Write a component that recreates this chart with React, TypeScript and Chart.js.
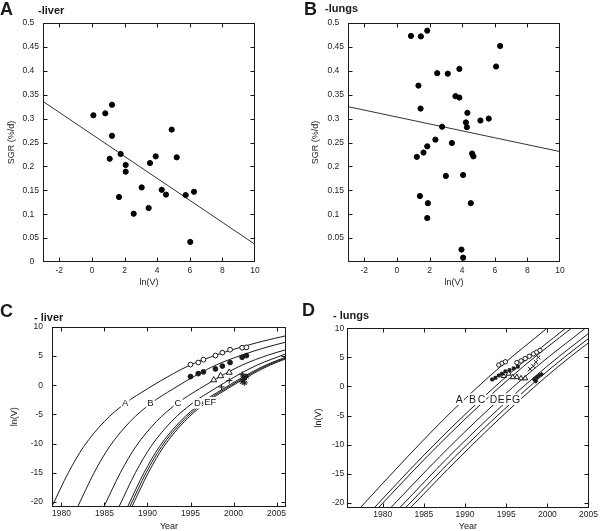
import React, { useEffect, useRef } from "react";
import { Chart, registerables } from "chart.js";
Chart.register(...registerables);

const FONT = "'Liberation Sans', Arial, Helvetica, sans-serif";
const INK = "#1a1a1a";

// ---------- Panel A (liver): SGR vs ln(V) ----------
const A_LNV = [0.09, 0.82, 1.23, 1.23, 1.09, 1.76, 2.07, 2.07, 1.66, 2.56, 3.05, 3.48, 3.56, 3.91, 4.28, 4.54, 4.89, 5.2, 5.75, 6.26, 6.03];
const A_SGR = [0.307, 0.311, 0.329, 0.264, 0.216, 0.226, 0.203, 0.189, 0.136, 0.101, 0.156, 0.113, 0.207, 0.221, 0.151, 0.141, 0.277, 0.219, 0.14, 0.147, 0.042];
const A_FIT_X = [-3, 10];
const A_FIT_Y = [0.336, 0.037];

// ---------- Panel B (lungs): SGR vs ln(V) ----------
const B_LNV = [0.86, 1.47, 1.86, 6.33, 6.08, 2.47, 3.12, 3.83, 1.32, 3.59, 3.83, 1.45, 4.32, 4.23, 4.29, 5.12, 5.63, 2.77, 2.36, 3.37, 1.86, 1.63, 1.22, 4.61, 4.69, 3.0, 4.06, 1.41, 1.9, 4.53, 1.86, 3.96, 4.06];
const B_SGR = [0.473, 0.472, 0.484, 0.452, 0.409, 0.395, 0.394, 0.404, 0.369, 0.347, 0.344, 0.321, 0.312, 0.292, 0.282, 0.296, 0.3, 0.283, 0.256, 0.249, 0.242, 0.229, 0.22, 0.227, 0.221, 0.18, 0.182, 0.138, 0.123, 0.123, 0.092, 0.026, 0.009];
const B_FIT_X = [-3, 10];
const B_FIT_Y = [0.325, 0.231];

const AB_X_TICKS = [-2, 0, 2, 4, 6, 8, 10];
const A_Y_TICKS = [0, 0.05, 0.1, 0.15, 0.2, 0.25, 0.3, 0.35, 0.4, 0.45, 0.5];
const B_Y_TICKS = [0.05, 0.1, 0.15, 0.2, 0.25, 0.3, 0.35, 0.4, 0.45, 0.5];

// ---------- Panel C (liver): ln(V) vs Year ----------
const C_CURVE_A = [[1978.9, -20.8], [1980.8, -15], [1982.6, -10.5], [1985.0, -6.2], [1987.4, -3.1], [1990, -0.6], [1993, 2.0], [1995, 3.5], [1998, 5.2], [2001, 6.6], [2003.5, 7.6], [2006.1, 8.5]];
const C_CURVE_B = [[1981.9, -20.8], [1983.8, -15], [1985.6, -10.5], [1988.0, -6.2], [1990.4, -3.1], [1993.0, -0.6], [1996.0, 2.0], [1998.0, 3.5], [2001.0, 5.2], [2004.0, 6.6], [2006.1, 7.4]];
const C_CURVE_C = [[1984.95, -20.8], [1986.85, -15], [1988.65, -10.5], [1991.05, -6.2], [1993.45, -3.1], [1996.05, -0.6], [1999.05, 2.0], [2001.05, 3.5], [2004.05, 5.2], [2006.1, 6.1]];
const C_CURVE_D = [[1986.7, -20.8], [1988.6, -15], [1990.4, -10.5], [1992.8, -6.2], [1995.2, -3.1], [1997.8, -0.6], [2000.8, 2.0], [2002.8, 3.5], [2006.1, 5.4]];
const C_CURVE_E = [[1987.7, -20.8], [1989.6, -15], [1991.4, -10.5], [1993.8, -6.2], [1996.2, -3.1], [1998.8, -0.6], [2001.8, 2.0], [2003.8, 3.5], [2006.1, 4.85]];
const C_CURVE_F = [[1987.95, -20.8], [1989.85, -15], [1991.65, -10.5], [1994.05, -6.2], [1996.45, -3.1], [1999.05, -0.6], [2002.05, 2.0], [2004.05, 3.5], [2006.1, 4.7]];
const C_CURVE_G = [[1988.2, -20.8], [1990.1, -15], [1991.9, -10.5], [1994.3, -6.2], [1996.7, -3.1], [1999.3, -0.6], [2002.3, 2.0], [2004.3, 3.5], [2006.1, 4.55]];
const C_OPEN_CIRCLES = [[1995.0, 3.55], [1995.9, 3.9], [1996.5, 4.4], [1997.9, 5.1], [1998.7, 5.6], [1999.6, 6.1], [2001.0, 6.45], [2001.5, 6.5]];
const C_FILLED_CIRCLES = [[1995.0, 1.5], [1995.9, 2.0], [1996.5, 2.3], [1997.9, 2.8], [1998.7, 3.3], [1999.6, 3.9], [2001.0, 4.8], [2001.5, 5.1]];
const C_TRIANGLES = [[1997.7, 0.9], [1998.5, 1.6], [1999.5, 2.2]];
const C_PLUSES = [[1998.6, -0.3], [1999.5, 0.8], [2001.0, 1.9], [2001.4, 1.4]];
const C_STARS = [[2001.0, 0.6], [2001.2, 1.0], [2001.5, 1.5], [2001.3, 0.4], [2001.1, 1.6]];
const C_LABELS = ["A", "B", "C", "D", "EF"];
const C_LABEL_X = [1987.4, 1990.35, 1993.55, 1995.8, 1997.3];
const C_LABEL_Y = [-3.1, -3.1, -3.1, -3.1, -2.9];

// ---------- Panel D (lungs): ln(V) vs Year ----------
const D_CURVE_A = [[1977.3, -20.8], [1983.0, -12.1], [1988.6, -4.0], [1994.3, 3.4], [1999.95, 10]];
const D_CURVE_B = [[1979.0, -20.8], [1984.8, -12.1], [1990.6, -4.0], [1996.4, 3.4], [2002.2, 10]];
const D_CURVE_C = [[1979.5, -20.8], [1985.35, -12.1], [1991.2, -4.0], [1997.05, 3.4], [2002.9, 10]];
const D_CURVE_D = [[1981.0, -20.8], [1986.9, -12.1], [1992.8, -4.0], [1998.7, 3.4], [2004.6, 10]];
const D_CURVE_E = [[1982.1, -20.8], [1988.0, -12.1], [1993.95, -4.0], [1999.9, 3.4], [2005.8, 10]];
const D_CURVE_F = [[1982.8, -20.8], [1988.75, -12.1], [1994.7, -4.0], [2000.65, 3.4], [2006.6, 10]];
const D_CURVE_G = [[1983.4, -20.8], [1989.4, -12.1], [1995.35, -4.0], [2001.3, 3.4], [2007.3, 10]];
const D_OPEN_CIRCLES = [[1994.1, 3.7], [1994.5, 4.0], [1994.9, 4.25], [1996.3, 4.1], [1996.8, 4.4], [1997.3, 4.8], [1997.8, 5.2], [1998.3, 5.6], [1998.7, 5.9], [1999.1, 6.2]];
const D_FILLED_SQUARES = [[1993.3, 1.2], [1993.7, 1.5], [1994.1, 1.9], [1994.5, 2.2], [1994.9, 2.6], [1995.4, 2.8], [1995.9, 3.1], [1996.4, 3.4]];
const D_CROSSES = [[1997.9, 3.0], [1998.3, 3.5], [1998.6, 4.2], [1998.9, 5.0]];
const D_TRIANGLES = [[1994.7, 1.8], [1995.3, 2.2], [1995.8, 1.6], [1996.3, 1.6], [1996.8, 1.4], [1997.3, 1.4]];
const D_FILLED_SMALL = [[1998.4, 1.2], [1998.7, 1.6], [1999.0, 1.9], [1999.3, 2.1], [1998.6, 0.9]];
const D_LABELS = ["A", "B", "C", "D", "E", "F", "G"];
const D_LABEL_X = [1989.3, 1990.9, 1992.0, 1993.45, 1994.4, 1995.3, 1996.2];
const D_LABEL_Y = [-2.2, -2.2, -2.2, -2.2, -2.2, -2.2, -2.2];

const CD_X_TICKS = [1980, 1985, 1990, 1995, 2000, 2005];
const CD_Y_TICKS = [-20, -15, -10, -5, 0, 5, 10];

// ---------- plugins ----------
const framePlugin = {
  id: "frame",
  afterDraw(chart: any) {
    const { ctx, chartArea: a, scales } = chart;
    const L = Math.round(a.left) + 0.5, R = Math.round(a.right) - 0.5;
    const T = Math.round(a.top) + 0.5, B = Math.round(a.bottom) - 0.5;
    ctx.save();
    ctx.strokeStyle = INK;
    ctx.lineWidth = 1;
    ctx.strokeRect(L, T, R - L, B - T);
    const len = 4;
    ctx.beginPath();
    scales.x.ticks.forEach((t: any) => {
      const px = Math.round(scales.x.getPixelForValue(t.value)) + 0.5;
      if (px < L || px > R) return;
      ctx.moveTo(px, B); ctx.lineTo(px, B - len);
      ctx.moveTo(px, T); ctx.lineTo(px, T + len);
    });
    scales.y.ticks.forEach((t: any) => {
      const py = Math.round(scales.y.getPixelForValue(t.value)) + 0.5;
      if (py < T || py > B) return;
      ctx.moveTo(L, py); ctx.lineTo(L + len, py);
      ctx.moveTo(R, py); ctx.lineTo(R - len, py);
    });
    ctx.stroke();
    ctx.restore();
  },
};

const textPlugin = {
  id: "texts",
  afterDraw(chart: any, _args: any, opts: any) {
    const { ctx, chartArea: a } = chart;
    ctx.save();
    ctx.fillStyle = INK;
    (opts.headings || []).forEach((h: any) => {
      ctx.font = h.font;
      ctx.textAlign = "left";
      ctx.textBaseline = "alphabetic";
      ctx.fillText(h.text, h.x, h.y);
    });
    ctx.font = `9px ${FONT}`;
    ctx.textAlign = "center";
    ctx.textBaseline = "middle";
    if (opts.xTitle) ctx.fillText(opts.xTitle, (a.left + a.right) / 2, opts.xTitleY);
    if (opts.yTitle) {
      ctx.translate(opts.yTitleX, (a.top + a.bottom) / 2);
      ctx.rotate(-Math.PI / 2);
      ctx.fillText(opts.yTitle, 0, 0);
    }
    ctx.restore();
  },
};

const curveLabelPlugin = {
  id: "curveLabels",
  afterDatasetsDraw(chart: any, _args: any, opts: any) {
    if (!opts.names) return;
    const { ctx, scales } = chart;
    ctx.save();
    ctx.font = `${opts.size}px ${FONT}`;
    ctx.textAlign = "center";
    ctx.textBaseline = "middle";
    opts.names.forEach((n: string, i: number) => {
      const px = scales.x.getPixelForValue(opts.xs[i]);
      const py = scales.y.getPixelForValue(opts.ys[i]);
      const w = ctx.measureText(n).width + 2;
      const h = opts.size + 1;
      ctx.fillStyle = "#fff";
      ctx.fillRect(px - w / 2, py - h / 2, w, h);
      ctx.fillStyle = INK;
      ctx.fillText(n, px, py + 0.5);
    });
    ctx.restore();
  },
};

// ---------- helpers ----------
const pts = (xs: number[], ys: number[]) => xs.map((x, i) => ({ x, y: ys[i] }));
const pairs = (p: number[][]) => p.map(([x, y]) => ({ x, y }));
const fmt = (v: number) => String(v);
const fmtPad = (v: number) => {
  const s = String(v);
  if (s === "0") return "0\u2007";
  const dec = s.split(".")[1] || "";
  return dec.length === 1 ? s + "\u2007" : s;
};

const curve = (p: number[][]) => ({
  data: pairs(p),
  showLine: true,
  borderColor: INK,
  borderWidth: 1,
  pointRadius: 0,
  cubicInterpolationMode: "monotone",
  order: 2,
});

const marks = (p: number[][], style: string, filled: boolean, r = 2.4) => ({
  data: pairs(p),
  showLine: false,
  pointStyle: style,
  pointRadius: r,
  pointBackgroundColor: filled ? INK : "#fff",
  pointBorderColor: INK,
  pointBorderWidth: 1,
  order: 1,
});

function makeConfig(p: any) {
  return {
    type: "scatter",
    data: { datasets: p.datasets },
    options: {
      responsive: false,
      animation: false,
      devicePixelRatio: 1,
      events: [],
      layout: { padding: { left: 0, top: p.top, right: p.right, bottom: 0 } },
      plugins: {
        legend: { display: false },
        tooltip: { enabled: false },
        texts: p.texts,
        curveLabels: p.labels || {},
      },
      scales: {
        x: {
          type: "linear",
          min: p.xMin,
          max: p.xMax,
          grid: { display: false, drawTicks: false },
          border: { display: false },
          ticks: {
            color: "#222",
            font: { family: FONT, size: 8.5 },
            padding: p.xPad,
            maxRotation: 0,
            autoSkip: false,
            callback: fmt,
          },
          afterBuildTicks: (s: any) => { s.ticks = p.xTicks.map((v: number) => ({ value: v })); },
          afterFit: (s: any) => { s.height = p.xH; },
        },
        y: {
          type: "linear",
          min: p.yMin,
          max: p.yMax,
          grid: { display: false, drawTicks: false },
          border: { display: false },
          ticks: {
            color: "#222",
            font: { family: FONT, size: 8.5 },
            padding: p.yPad,
            autoSkip: false,
            callback: p.yFmt || fmt,
          },
          afterBuildTicks: (s: any) => { s.ticks = p.yTicks.map((v: number) => ({ value: v })); },
          afterFit: (s: any) => { s.width = p.yW; },
        },
      },
    },
    plugins: [framePlugin, textPlugin, curveLabelPlugin],
  };
}

const BIG = `bold 18px ${FONT}`;
const SMALL = `bold 11px ${FONT}`;

const configA = makeConfig({
  top: 23, right: 45, yW: 43, xH: 38, xPad: 4, yPad: 4,
  xMin: -3, xMax: 10, yMin: 0, yMax: 0.5, xTicks: AB_X_TICKS, yTicks: A_Y_TICKS, yFmt: fmtPad,
  texts: {
    headings: [{ text: "A", x: 0, y: 15, font: BIG }, { text: "-liver", x: 38, y: 14, font: SMALL }],
    xTitle: "ln(V)", xTitleY: 283, yTitle: "SGR (%/d)", yTitleX: 12,
  },
  datasets: [
    { data: pts(A_FIT_X, A_FIT_Y), showLine: true, borderColor: "#333", borderWidth: 1, pointRadius: 0, order: 2 },
    { data: pts(A_LNV, A_SGR), showLine: false, pointRadius: 2.6, pointBackgroundColor: "#000", pointBorderColor: "#000", order: 1 },
  ],
});

const configB = makeConfig({
  top: 23, right: 40, yW: 48, xH: 38, xPad: 4, yPad: 4,
  xMin: -3, xMax: 10, yMin: 0, yMax: 0.5, xTicks: AB_X_TICKS, yTicks: B_Y_TICKS, yFmt: fmtPad,
  texts: {
    headings: [{ text: "B", x: 4, y: 15, font: BIG }, { text: "-lungs", x: 25, y: 11.5, font: SMALL }],
    xTitle: "ln(V)", xTitleY: 283, yTitle: "SGR (%/d)", yTitleX: 16,
  },
  datasets: [
    { data: pts(B_FIT_X, B_FIT_Y), showLine: true, borderColor: "#333", borderWidth: 1, pointRadius: 0, order: 2 },
    { data: pts(B_LNV, B_SGR), showLine: false, pointRadius: 2.6, pointBackgroundColor: "#000", pointBorderColor: "#000", order: 1 },
  ],
});

const configC = makeConfig({
  top: 27, right: 14, yW: 52, xH: 24.5, xPad: 2, yPad: 9,
  xMin: 1978.9, xMax: 2006.1, yMin: -20.8, yMax: 10, xTicks: CD_X_TICKS, yTicks: CD_Y_TICKS,
  texts: {
    headings: [{ text: "C", x: 0, y: 17, font: BIG }, { text: "- liver", x: 34, y: 20.5, font: SMALL }],
    xTitle: "Year", xTitleY: 226.5, yTitle: "ln(V)", yTitleX: 15,
  },
  labels: { names: C_LABELS, xs: C_LABEL_X, ys: C_LABEL_Y, size: 9.5 },
  datasets: [
    curve(C_CURVE_A), curve(C_CURVE_B), curve(C_CURVE_C), curve(C_CURVE_D),
    curve(C_CURVE_E), curve(C_CURVE_F), curve(C_CURVE_G),
    marks(C_OPEN_CIRCLES, "circle", false),
    marks(C_FILLED_CIRCLES, "circle", true),
    marks(C_TRIANGLES, "triangle", false, 3.5),
    marks(C_PLUSES, "cross", false, 3),
    marks(C_STARS, "star", false, 3),
  ],
});

const configD = makeConfig({
  top: 28.3, right: 11, yW: 47.3, xH: 23.5, xPad: 2, yPad: 3,
  xMin: 1975.7, xMax: 2005, yMin: -20.8, yMax: 10, xTicks: CD_X_TICKS, yTicks: CD_Y_TICKS,
  texts: {
    headings: [{ text: "D", x: 2, y: 16, font: BIG }, { text: "- lungs", x: 33, y: 19, font: SMALL }],
    xTitle: "Year", xTitleY: 226.5, yTitle: "ln(V)", yTitleX: 18.5,
  },
  labels: { names: D_LABELS, xs: D_LABEL_X, ys: D_LABEL_Y, size: 10.5 },
  datasets: [
    curve(D_CURVE_A), curve(D_CURVE_B), curve(D_CURVE_C), curve(D_CURVE_D),
    curve(D_CURVE_E), curve(D_CURVE_F), curve(D_CURVE_G),
    marks(D_OPEN_CIRCLES, "circle", false, 2.2),
    marks(D_FILLED_SQUARES, "rect", true, 2),
    marks(D_CROSSES, "crossRot", false, 3),
    marks(D_TRIANGLES, "triangle", false, 3),
    marks(D_FILLED_SMALL, "rectRot", true, 2),
  ],
});

function ChartCanvas({ left, top, width, height, config }: any) {
  const ref = useRef<HTMLCanvasElement>(null);
  useEffect(() => {
    const chart = new Chart(ref.current as any, config as any);
    return () => chart.destroy();
  }, [config]);
  return (
    <canvas
      ref={ref}
      width={width}
      height={height}
      style={{ position: "absolute", left, top, width, height }}
    />
  );
}

export default function App() {
  return (
    <div style={{ position: "absolute", left: 0, top: 0, width: 600, height: 531, background: "#fff" }}>
      <ChartCanvas left={0} top={0} width={300} height={300} config={configA} />
      <ChartCanvas left={300} top={0} width={300} height={300} config={configB} />
      <ChartCanvas left={0} top={300} width={300} height={231} config={configC} />
      <ChartCanvas left={300} top={300} width={300} height={231} config={configD} />
    </div>
  );
}
